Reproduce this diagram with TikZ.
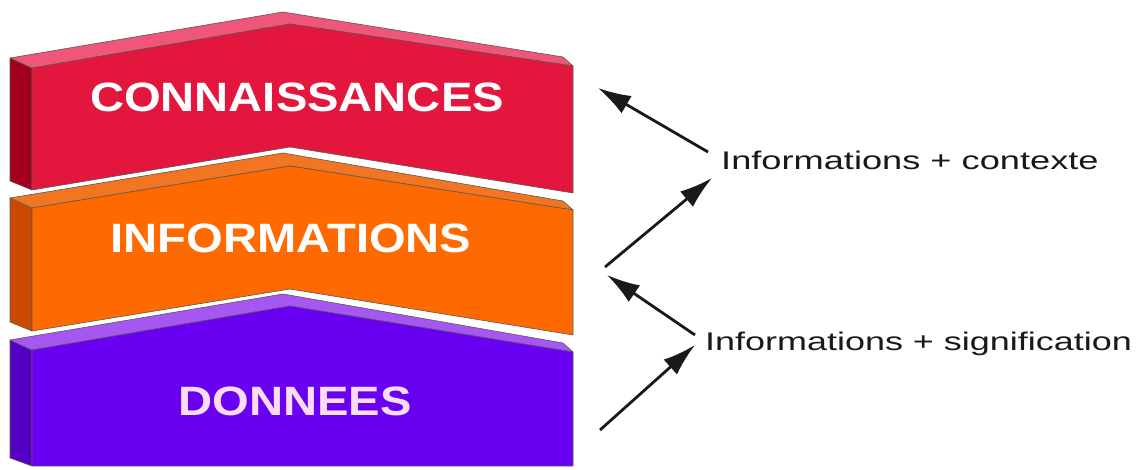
\documentclass[tikz,border=0pt]{standalone}
\usepackage{fontspec}
\setmainfont{Liberation Sans}
\usetikzlibrary{arrows.meta}
\definecolor{redF}{HTML}{E3173E}
\definecolor{redT}{HTML}{F0557A}
\definecolor{redS}{HTML}{A30020}
\definecolor{orgF}{HTML}{FF6A00}
\definecolor{orgT}{HTML}{F27622}
\definecolor{orgS}{HTML}{CC4A00}
\definecolor{purF}{HTML}{6A00F2}
\definecolor{purT}{HTML}{A657F2}
\definecolor{purS}{HTML}{5400C4}
\begin{document}
\begin{tikzpicture}[x=1pt,y=-1pt,
  face/.style={draw=black!65, line width=0.6pt, line join=round},
  blk/.style={font=\fontsize{41}{48}\selectfont\bfseries, inner sep=0pt, anchor=base},
  sidelbl/.style={font=\fontsize{25.5}{30}\selectfont, text=black!90, inner sep=0pt, anchor=base west},
  arr/.style={-{Latex[length=33pt,width=20pt]}, line width=2.8pt, black!90}]
\useasboundingbox[fill=white] (0,0) rectangle (1137,470);

% red block
\filldraw[fill=redS, face] (10,58) -- (32,68) -- (32,190) -- (10,181) -- cycle;
\filldraw[fill=redT, face] (10,58) -- (283,12) -- (563,57) -- (573,66) -- (290,24) -- (32,68) -- cycle;
\filldraw[fill=redF, face] (32,68) -- (290,24) -- (573,66) -- (573,193) -- (290,147) -- (32,190) -- cycle;

% orange block
\filldraw[fill=orgS, face] (10,198) -- (32,208) -- (32,331) -- (10,322) -- cycle;
\filldraw[fill=orgT, face] (10,198) -- (283,153) -- (563,201) -- (573,210) -- (290,166) -- (32,208) -- cycle;
\filldraw[fill=orgF, face] (32,208) -- (290,166) -- (573,210) -- (573,335) -- (290,289) -- (32,331) -- cycle;

% purple block
\filldraw[fill=purS, face] (10,340) -- (32,350) -- (32,466) -- (10,458) -- cycle;
\filldraw[fill=purT, face] (10,340) -- (283,294) -- (563,343) -- (573,352) -- (290,306) -- (32,350) -- cycle;
\filldraw[fill=purF, face] (32,350) -- (290,306) -- (573,352) -- (573,466) -- (32,466) -- cycle;

% block labels
\node[blk, text=white] (conn) at (297,112) {\scalebox{1.15}[1]{CONNAISSANCES}};
\node[blk, text=white] (info) at (291,253) {\scalebox{1.15}[1]{INFORMATIONS}};
\node[blk, text={rgb,255:red,250;green,220;blue,245}] (donn) at (295,415) {\scalebox{1.15}[1]{DONNEES}};

% side labels
\node[sidelbl] (ctx) at (721,170) {\scalebox{1.42}[1]{Informations + contexte}};
\node[sidelbl] (sig) at (705,350) {\scalebox{1.41}[1]{Informations + signification}};

% arrow end points
\coordinate (a1s) at (708,152); \coordinate (a1e) at (598,88);
\coordinate (a2s) at (605,267); \coordinate (a2e) at (712,178);
\coordinate (a3s) at (695,335); \coordinate (a3e) at (607,275);
\coordinate (a4s) at (600,430); \coordinate (a4e) at (695,345);

\draw[arr] (a1s) -- (a1e);
\draw[arr] (a2s) -- (a2e);
\draw[arr] (a3s) -- (a3e);
\draw[arr] (a4s) -- (a4e);
\end{tikzpicture}
\end{document}
